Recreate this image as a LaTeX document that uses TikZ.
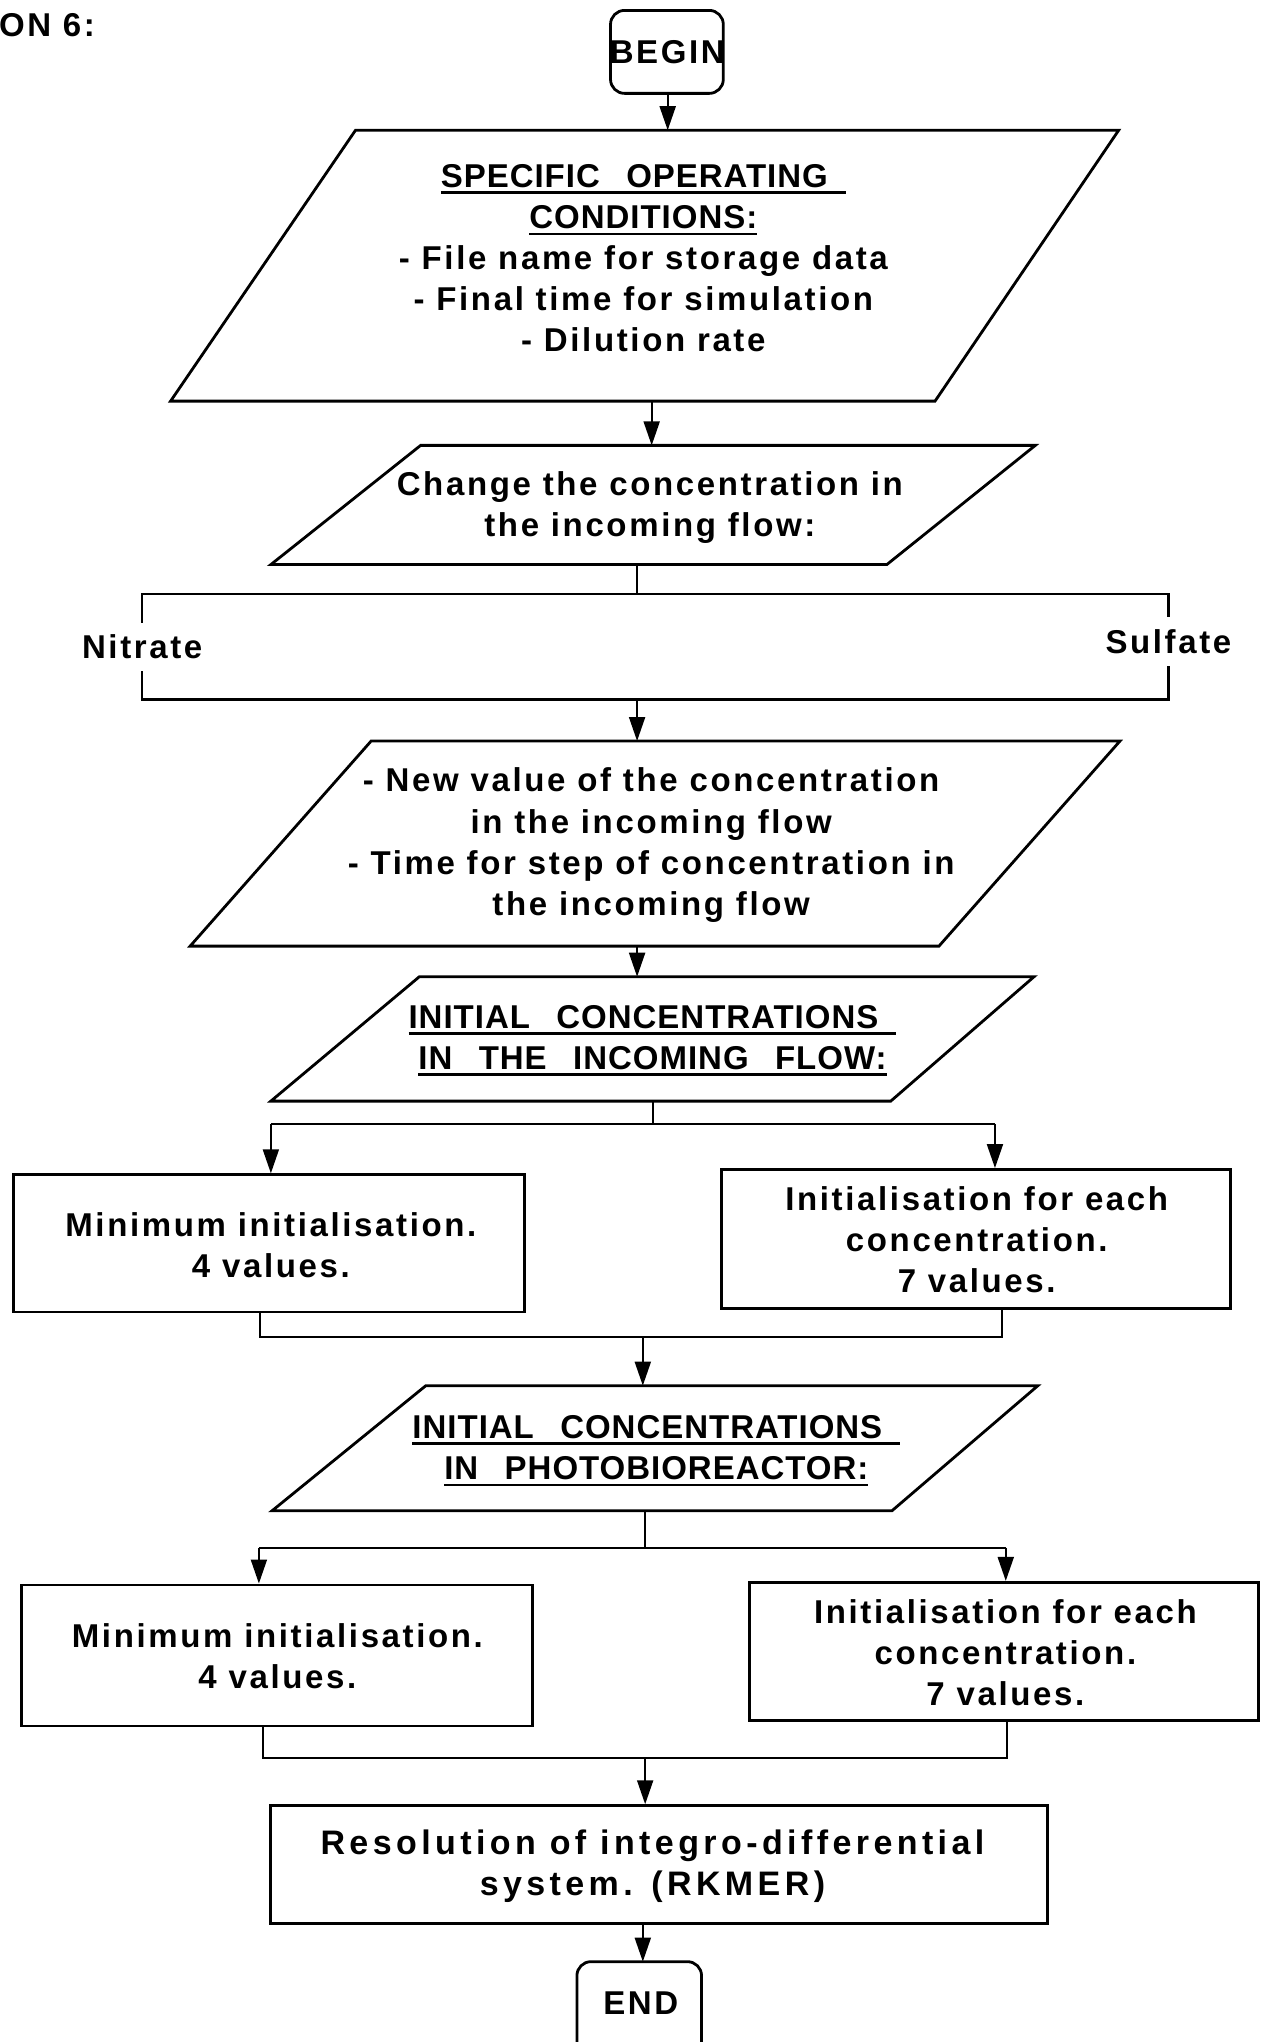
\documentclass[tikz,border=0pt]{standalone}
\usepackage{fontspec}
\setmainfont{Liberation Sans}
\usetikzlibrary{arrows.meta,fit}

% underlined heading text, with optional extra rule length at the end
\newsavebox\ulbox
\newcommand\ulx[2][0pt]{\sbox\ulbox{#2\hspace*{#1}}\rlap{\rule[-3.4pt]{\wd\ulbox}{1.3pt}}\usebox\ulbox}
\newcommand\hgap{\hspace*{0.8em}}
\newcommand\hd[1]{{\addfontfeature{LetterSpace=3}#1}}

\tikzset{
  outline/.style={draw, line width=1.4pt, line join=miter},
  framebox/.style={outline, rectangle, inner sep=0pt},
  terminal/.style={outline, rectangle, rounded corners=7pt, inner sep=0pt},
  conn/.style={line width=1pt},
  arr/.style={conn, -{Triangle[length=12pt,width=8pt]}},
  body/.style={align=center, inner sep=0pt,
    font=\fontsize{16.5}{20.6}\selectfont\bfseries\addfontfeature{LetterSpace=8}},
  strong/.style={align=center, inner sep=0pt,
    font=\fontsize{17}{20.6}\selectfont\bfseries\addfontfeature{LetterSpace=13}},
  sidelabel/.style={body, text height=12pt, text depth=0pt, inner xsep=0pt, inner ysep=6pt},
}

\begin{document}
\begin{tikzpicture}[x=0.65135pt,y=-0.65135pt]
\useasboundingbox (0,0) rectangle (968,1568);
\clip (0,0) rectangle (968,1568);

% section caption fragment
\node[body, anchor=west] (sec) at (-1,19) {ON 6:};

% start terminal
\node[terminal, fit={(468.8,8)(555.4,71.7)}] (begin) {};
\node[body] (begintext) at (512.4,39.7) {BEGIN};

% specific operating conditions
\draw[outline] (273,100) -- (859,100) -- (718,308) -- (131,308) -- cycle;
\coordinate (p1in) at (512.7,100);
\coordinate (p1out) at (500.4,308);
\node[body] (p1text) at (494,198.3) {\hd{\ulx[9pt]{SPECIFIC\hgap OPERATING}}\\
  \hd{\ulx{CONDITIONS:}}\\
  - File name for storage data\\
  - Final time for simulation\\
  - Dilution rate};

% change of the incoming concentration
\draw[outline] (323,342) -- (795,342) -- (681,433.5) -- (208,433.5) -- cycle;
\coordinate (p2in) at (500.4,342);
\coordinate (p2out) at (489.2,433.5);
\node[body] (p2text) at (499,389.5) {Change the concentration in\\ the incoming flow:};

% nitrate / sulfate choice
\coordinate (brtop) at (489.2,456);
\coordinate (brbot) at (489.2,537);
\node[sidelabel] (nitrate) at (109.2,496.8) {Nitrate};
\node[sidelabel] (sulfate) at (897.2,492.8) {Sulfate};
\draw[conn] (p2out) -- (brtop);
\draw[conn, line width=1.2pt] (nitrate.north) -- (nitrate.north |- brtop) -- (sulfate.north |- brtop) -- (sulfate.north);
\draw[conn, line width=1.2pt] (nitrate.south) -- (nitrate.south |- brbot) -- (sulfate.south |- brbot) -- (sulfate.south);

% new value of the concentration
\draw[outline] (285,569) -- (860,569) -- (721,726.5) -- (146,726.5) -- cycle;
\coordinate (p3in) at (489.2,569);
\coordinate (p3out) at (489.2,726.5);
\node[body] (p3text) at (500,649) {- New value of the concentration\\
  in the incoming flow\\
  - Time for step of concentration in\\
  the incoming flow};
\draw[arr] (brbot) -- (p3in);

% initial concentrations in the incoming flow
\draw[outline] (322,750) -- (794,750) -- (684,845.5) -- (208,845.5) -- cycle;
\coordinate (p4in) at (489.2,750);
\coordinate (p4out) at (501.6,845.5);
\node[body] (p4text) at (501,799) {\hd{\ulx[9pt]{INITIAL\hgap CONCENTRATIONS}}\\
  \hd{\ulx{IN\hgap THE\hgap INCOMING\hgap FLOW:}}};
\draw[arr] (p3out) -- (p4in);

\node[framebox, fit={(10.3,902)(402.7,1007.5)}] (l1) {};
\node[body] (l1text) at (208,956) {Minimum initialisation.\\ 4 values.};
\node[framebox, fit={(554,898)(944.7,1004.8)}] (r1) {};
\node[body] (r1text) at (750,952) {Initialisation for each\\ concentration.\\ 7 values.};

\coordinate (s1) at (501.6,863);
\coordinate (s1l) at (208,863);
\coordinate (s1r) at (764,863);
\draw[conn] (p4out) -- (s1);
\draw[conn] (s1l) -- (s1r);
\draw[arr] (s1l) -- (s1l |- l1.north);
\draw[arr] (s1r) -- (s1r |- r1.north);

\coordinate (m1l) at (200,1026.7);
\coordinate (m1r) at (769.2,1026.7);
\coordinate (m1) at (493.6,1026.7);
\draw[conn] (l1.south -| m1l) -- (m1l) -- (m1r) -- (r1.south -| m1r);

% initial concentrations in the photobioreactor
\draw[outline] (327,1064) -- (797,1064) -- (685,1160) -- (209,1160) -- cycle;
\coordinate (p5in) at (493.6,1064);
\coordinate (p5out) at (495.4,1160);
\node[body] (p5text) at (504,1114) {\hd{\ulx[9pt]{INITIAL\hgap CONCENTRATIONS}}\\
  \hd{\ulx{IN\hgap PHOTOBIOREACTOR:}}};
\draw[arr] (m1) -- (p5in);

\node[framebox, fit={(16.4,1217)(408.9,1325.3)}] (l2) {};
\node[body] (l2text) at (213,1272) {Minimum initialisation.\\ 4 values.};
\node[framebox, fit={(575.8,1215)(966.5,1321.3)}] (r2) {};
\node[body] (r2text) at (772,1269) {Initialisation for each\\ concentration.\\ 7 values.};

\coordinate (s2) at (495.4,1188.4);
\coordinate (s2l) at (198.8,1188.4);
\coordinate (s2r) at (772.3,1188.4);
\draw[conn] (p5out) -- (s2);
\draw[conn] (s2l) -- (s2r);
\draw[arr] (s2l) -- (s2l |- l2.north);
\draw[arr] (s2r) -- (s2r |- r2.north);

\coordinate (m2l) at (201.9,1350);
\coordinate (m2r) at (773.5,1350);
\coordinate (m2) at (495.4,1350);
\draw[conn] (l2.south -| m2l) -- (m2l) -- (m2r) -- (r2.south -| m2r);

% integration of the model
\node[framebox, fit={(208,1386.5)(804.4,1477)}] (res) {};
\node[strong] (restext) at (501,1433) {Resolution of integro-differential\\ system. (RKMER)};
\draw[arr] (m2) -- (m2 |- res.north);

% end terminal
\node[terminal, fit={(443,1506.3)(538.7,1600)}] (end) {};
\node[body] (endtext) at (492,1538) {END};
\draw[arr] (res.south -| 493.6,0) -- (493.6,1506.3);

% main-line arrows
\draw[arr] (begin.south -| p1in) -- (p1in);
\draw[arr] (p1out) -- (p2in);
\end{tikzpicture}
\end{document}
